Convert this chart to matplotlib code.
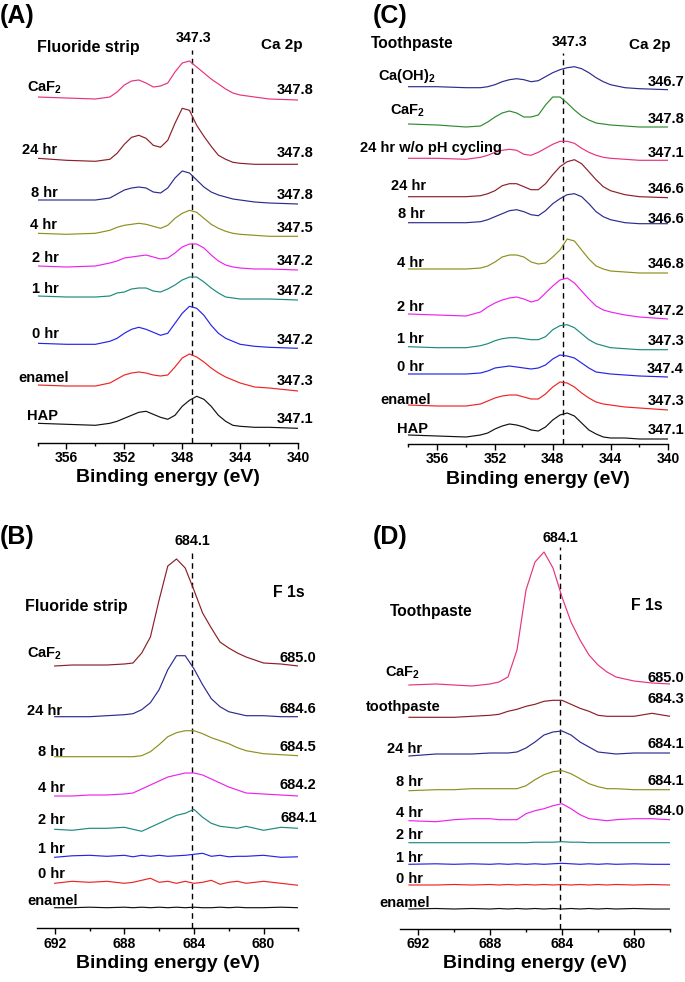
import numpy as np
import matplotlib.pyplot as plt
from matplotlib.ticker import MultipleLocator

plt.rcParams['font.family'] = ['Liberation Sans', 'DejaVu Sans']
plt.rcParams['font.weight'] = 'bold'
plt.rcParams['mathtext.default'] = 'regular'

W, H = 685, 982

# ---------------- data ----------------
# Ca 2p energy grid (eV) and F 1s energy grids
e_ca = [358, 356, 354, 353, 352.5, 352, 351.5, 351, 350.5, 350, 349.5, 349, 348.5, 348,
        347.5, 347, 346.5, 346, 345.5, 345, 344.5, 344, 343, 342, 340]
e_f_b = [692, 691, 690, 689, 688, 687.5, 687, 686.5, 686, 685.5, 685, 684.5, 684, 683.5,
         683, 682.5, 682, 681.5, 681, 680, 679, 678]
e_f_d = [692.5, 691, 690, 689, 688, 687.5, 687, 686.5, 686, 685.5, 685, 684.5, 684, 683.5,
         683, 682.5, 682, 681.5, 681, 680, 679, 678]

# (A) fluoride strip, Ca 2p  (intensity above each trace's own baseline)
a_caf2 = [0, -1, -2, 0, 5, 12, 16, 17, 14, 10, 11, 14, 25, 34, 36, 30, 24, 18, 13, 8, 4, 2, 0, -2, -3]
a_24 = [0, -2, -3, -1, 5, 14, 21, 23, 20, 13, 11, 18, 35, 50, 48, 33, 22, 12, 3, -1, -4, -5, -6, -6, -6]
a_8 = [0, 0, 0, 2, 6, 10, 12, 13, 12, 8, 7, 12, 22, 29, 27, 20, 13, 8, 5, 3, 1, 0, -2, -3, -4]
a_4 = [0, -1, 0, 3, 6, 8, 9, 10, 9, 7, 5, 8, 15, 20, 23, 21, 15, 9, 5, 2, 0, -1, -2, -3, -3]
a_2 = [0, -1, 0, 3, 5, 8, 9, 10, 11, 9, 7, 8, 13, 19, 22, 22, 18, 11, 5, 1, -1, -2, -3, -3, -4]
a_1 = [0, -1, -1, 0, 3, 4, 7, 8, 8, 5, 4, 7, 11, 16, 19, 19, 14, 8, 3, -1, -2, -3, -3, -3, -4]
a_0 = [0, -1, -1, 2, 5, 10, 14, 16, 14, 11, 8, 10, 20, 30, 37, 35, 28, 18, 10, 5, 2, -1, -3, -4, -5]
a_enamel = [0, -1, -1, 2, 6, 10, 12, 13, 12, 10, 9, 10, 18, 27, 31, 28, 23, 17, 12, 8, 5, 2, -2, -3, -6]
a_hap = [0, -1, -2, 0, 2, 5, 8, 11, 12, 9, 6, 4, 8, 17, 23, 27, 24, 17, 8, 2, -2, -3, -4, -4, -5]
a_offsets = [345.7, 284.4, 242.7, 209.4, 176.7, 146.7, 99.4, 57.7, 19.4]
a_names = ['CaF$_2$', '24 hr', '8 hr', '4 hr', '2 hr', '1 hr', '0 hr', 'enamel', 'HAP']
a_peaks = ['347.8', '347.8', '347.8', '347.5', '347.2', '347.2', '347.2', '347.3', '347.1']

# (C) toothpaste, Ca 2p
c_caoh2 = [0, 0, -1, -1, 0, 2, 5, 7, 8, 7, 5, 6, 10, 14, 17, 19, 20, 18, 14, 9, 5, 2, -1, -2, -3]
c_caf2 = [0, -1, -3, -2, 2, 7, 11, 13, 11, 7, 7, 9, 19, 27, 27, 21, 14, 8, 4, 1, 0, -1, -2, -3, -3]
c_24_nocyc = [0, 0, -1, 1, 3, 6, 8, 9, 8, 4, 3, 6, 10, 14, 17, 17, 15, 10, 6, 3, 1, 0, -1, -2, -2]
c_24 = [0, 0, 0, 1, 3, 6, 11, 13, 13, 10, 7, 7, 13, 22, 30, 35, 37, 33, 25, 17, 10, 6, 2, 0, -1]
c_8 = [0, 0, 0, 1, 3, 6, 9, 12, 13, 11, 8, 7, 12, 19, 24, 28, 29, 26, 19, 11, 6, 3, 0, -1, -1]
c_4 = [0, 0, 0, 1, 3, 7, 12, 14, 14, 12, 7, 5, 6, 12, 19, 30, 28, 19, 10, 3, 0, -2, -3, -4, -4]
c_2 = [0, -1, -2, 2, 7, 11, 14, 16, 17, 15, 12, 14, 21, 28, 34, 36, 31, 23, 15, 8, 4, 2, -1, -3, -5]
c_1 = [0, -1, -1, 1, 3, 6, 8, 9, 9, 8, 7, 7, 10, 17, 21, 22, 19, 13, 7, 3, 1, -1, -2, -3, -3]
c_0 = [0, 0, 0, 1, 3, 6, 7, 8, 7, 6, 5, 6, 9, 15, 19, 18, 16, 11, 6, 2, 1, 0, -1, -2, -3]
c_enamel = [0, -1, -1, 1, 4, 7, 9, 10, 10, 8, 6, 6, 11, 18, 23, 22, 18, 12, 7, 3, 1, 0, -2, -3, -5]
c_hap = [0, -1, -2, 0, 2, 6, 9, 11, 10, 8, 5, 4, 8, 15, 20, 22, 19, 12, 5, 1, -2, -3, -3, -4, -4]
c_offsets = [357.3, 320, 285.7, 247.3, 221.3, 175, 130, 97.3, 70, 39, 9]
c_names = ['Ca(OH)$_2$', 'CaF$_2$', '24 hr w/o pH cycling', '24 hr', '8 hr', '4 hr', '2 hr',
           '1 hr', '0 hr', 'enamel', 'HAP']
c_peaks = ['346.7', '347.8', '347.1', '346.6', '346.6', '346.8', '347.2', '347.3', '347.4',
           '347.3', '347.1']

# (B) fluoride strip, F 1s
b_caf2 = [0, 1, 1, 1, 2, 3, 13, 29, 66, 100, 107, 98, 76, 53, 38, 24, 18, 13, 9, 3, 2, 0]
b_24 = [0, 0, 0, 1, 2, 3, 7, 14, 27, 47, 61, 61, 48, 32, 18, 10, 5, 3, 1, 1, 0, 0]
b_8 = [0, 0, 0, 0, 0, 0, 1, 5, 12, 20, 24, 26, 26, 23, 19, 16, 13, 9, 6, 3, 2, 1]
b_4 = [0, 0, 1, 1, 2, 3, 7, 11, 15, 19, 21, 23, 23, 21, 17, 13, 9, 6, 3, 2, 1, 0]
b_2 = [0, -1, 1, 1, 2, 0, -2, 2, 6, 10, 14, 16, 20, 12, 6, 3, 2, 1, 3, -1, 2, 1]
b_1 = [0, 1.5, 2, 1, 2, 0.5, 2, 1, 2, 1, 1.5, 2, 3, 4, 1, 2, 0.5, 1, 1, 2, 0, 0.5]
b_0 = [0, 2, 1, 2, 0, 1, 3, 5, 1, 2, 0, 2, 0, 1, 3, -1, 1, 2, 0, 2, 0, -2]
b_enamel = [0, 0, 0.5, 0, 0.5, 0, 0.5, 0, 0.5, 0, 0.5, 0, 0.5, 0, 0, 0.5, 0, 0.5, 0, 0, 0.5, 0]
b_offsets = [262.3, 211.6, 171.6, 132.3, 99, 71, 45, 20.6]
b_names = ['CaF$_2$', '24 hr', '8 hr', '4 hr', '2 hr', '1 hr', '0 hr', 'enamel']
b_peaks = ['685.0', '684.6', '684.5', '684.2', '684.1', '', '', '']

# (D) toothpaste, F 1s
d_caf2 = [0, 1, 0, -1, 1, 3, 8, 35, 95, 123, 133, 117, 88, 63, 45, 30, 20, 13, 8, 4, 2, 1]
d_paste = [0, 0, 0, 1, 2, 3, 6, 8, 11, 13, 16, 17, 17, 13, 9, 6, 2, 1, 1, 1, 4, 1]
d_24 = [0, 2, 2, 2, 3, 3, 3, 4, 8, 14, 21, 24, 25, 21, 14, 9, 4, 3, 2, 3, 3, 3]
d_8 = [0, 1, 1, 2, 2, 2, 2, 2, 5, 11, 16, 19, 20, 17, 12, 7, 4, 2, 2, 1, 1, 1]
d_4 = [0, -1, 1, 2, 2, 1, 1, 1, 7, 10, 12, 15, 17, 12, 6, 2, 1, 0, 1, 2, 2, 1]
d_2 = [0, 0, 0, 0, 0, 0, 0, 0, 0, 0.5, 0.5, 0.5, 1, 0.5, 0.5, 0, 0, 0, 0, 0, 0, 0]
d_1 = [0, 0.5, 0, 0.5, 0, 0.5, 0, 0.5, 0, 0.5, 0, 0.5, 1, 0.5, 0, 0.5, 0, 0.5, 0, 0.5, 0, 0]
d_0 = [0, 0, 0.5, 0, 0.5, 0, 0.5, 0, 0.5, 0, 0.5, 0, 0.5, 0, 0.5, 0, 0.5, 0, 0.5, 0, 0.5, 0]
d_enamel = [0, 0.5, 0, 0.5, 0, 0.5, 0, 0.5, 0, 0.5, 0, 0.5, 0, 0.5, 0, 0.5, 0, 0.5, 0, 0.5, 0, 0]
d_offsets = [244, 211.7, 173, 138.3, 108.3, 86.3, 64.7, 44, 20]
d_names = ['CaF$_2$', 'toothpaste', '24 hr', '8 hr', '4 hr', '2 hr', '1 hr', '0 hr', 'enamel']
d_peaks = ['685.0', '684.3', '684.1', '684.1', '684.0', '', '', '', '']

ref_ca = 347.3
ref_f = 684.1

# ---------------- styles ----------------
pink = '#e8327f'
brown = '#8c1f28'
navy = '#2b2b8e'
olive = '#8f8f1e'
magenta = '#ee22ee'
teal = '#1c8a80'
blue = '#2424e8'
red = '#ee2424'
black = '#111111'
green = '#2e8b2e'

a_colors = [pink, brown, navy, olive, magenta, teal, blue, red, black]
c_colors = [navy, green, pink, brown, navy, olive, magenta, teal, blue, red, black]
b_colors = [brown, navy, olive, magenta, teal, blue, red, black]
d_colors = [pink, brown, navy, olive, magenta, teal, blue, red, black]

fig = plt.figure(figsize=(W / 100, H / 100), dpi=100)


def fx(x):
    return x / W


def fy(y):
    return 1 - y / H


def make_axes(left, right, axis_y, top, xlim, major, dash_top, ref):
    ax = fig.add_axes([fx(left), fy(axis_y), (right - left) / W, (axis_y - top) / H])
    ax.set_xlim(*xlim)
    ax.set_ylim(0, axis_y - top)
    for s in ['top', 'left', 'right']:
        ax.spines[s].set_visible(False)
    ax.spines['bottom'].set_linewidth(1.0)
    ax.xaxis.set_major_locator(MultipleLocator(major))
    ax.xaxis.set_minor_locator(MultipleLocator(major / 2))
    ax.tick_params(axis='x', which='major', direction='out', length=4, width=1, pad=2,
                   labelsize=10)
    ax.tick_params(axis='x', which='minor', direction='out', length=2.4, width=1)
    ax.set_yticks([])
    for lab in ax.get_xticklabels():
        lab.set_fontweight('bold')
    ax.set_xlabel('Binding energy (eV)', fontsize=14, fontweight='bold', labelpad=3)
    ax.plot([ref, ref], [0, axis_y - dash_top], color='black', lw=1, ls=(0, (4, 3)))
    return ax


def draw(ax, x, curves, offsets, colors):
    for y, off, c in zip(curves, offsets, colors):
        ax.plot(x, np.array(y) + off, color=c, lw=0.85, solid_joinstyle='round')


def label(x, y, s, ha='center', size=10.5):
    fig.text(fx(x), fy(y), s, ha=ha, va='baseline', fontsize=size, fontweight='bold')


# ---- panel A ----
ax_a = make_axes(37.5, 298, 442.7, 30, (358, 340), 4, 50, ref_ca)
draw(ax_a, e_ca, [a_caf2, a_24, a_8, a_4, a_2, a_1, a_0, a_enamel, a_hap], a_offsets, a_colors)
a_lab_x = [45, 40, 44, 44, 45, 45, 45, 44, 43]
a_lab_y = [91.7, 154, 197, 229, 261.7, 293.3, 338.3, 381.7, 420]
a_val_y = [94, 157.3, 199.3, 232.3, 265, 295, 344, 385, 423.3]
for n, p, lx, ly, vy in zip(a_names, a_peaks, a_lab_x, a_lab_y, a_val_y):
    label(lx, ly, n)
    label(313, vy, p, ha='right')
label(0, 22.7, '(A)', ha='left', size=18)
label(37, 52, 'Fluoride strip', ha='left', size=11.5)
label(194, 41.7, '347.3', size=10.3)
label(282, 49, 'Ca 2p', size=11)

# ---- panel C ----
ax_c = make_axes(408.3, 668.3, 444, 30, (358, 340), 4, 53, ref_ca)
draw(ax_c, e_ca, [c_caoh2, c_caf2, c_24_nocyc, c_24, c_8, c_4, c_2, c_1, c_0, c_enamel, c_hap],
     c_offsets, c_colors)
c_lab_x = [407, 407.5, 431, 408.5, 411, 410, 410, 410, 410, 406, 412]
c_lab_y = [80, 115, 151.7, 190, 218.3, 266.7, 310.7, 343, 370.7, 404, 432.7]
c_val_y = [86, 123.3, 156.7, 193.3, 223.3, 268.3, 315, 345, 373.3, 405, 434]
for n, p, lx, ly, vy in zip(c_names, c_peaks, c_lab_x, c_lab_y, c_val_y):
    label(lx, ly, n)
    label(684, vy, p, ha='right')
label(373, 22.7, '(C)', ha='left', size=18)
label(371, 48.3, 'Toothpaste', ha='left', size=11.2)
label(569.5, 46, '347.3', size=10.3)
label(650, 49.3, 'Ca 2p', size=11)

# ---- panel B ----
ax_b = make_axes(37.3, 298.3, 928.3, 520, (693, 678), 4, 550, ref_f)
draw(ax_b, e_f_b, [b_caf2, b_24, b_8, b_4, b_2, b_1, b_0, b_enamel], b_offsets, b_colors)
b_lab_x = [45, 45, 51, 51, 51, 51, 51, 53]
b_lab_y = [658, 715, 756, 791.7, 824, 852.7, 878.3, 905]
b_val_y = [661.7, 713.3, 750.7, 789.3, 821.7, 0, 0, 0]
for n, p, lx, ly, vy in zip(b_names, b_peaks, b_lab_x, b_lab_y, b_val_y):
    label(lx, ly, n)
    if p:
        label(316.7, vy, p, ha='right')
label(0, 544, '(B)', ha='left', size=18)
label(25, 610.7, 'Fluoride strip', ha='left', size=11.5)
label(192.5, 545, '684.1', size=10.3)
label(289, 596.7, 'F 1s', size=11.4)

# ---- panel D ----
ax_d = make_axes(400, 670, 929, 520, (693, 678), 4, 547, ref_f)
draw(ax_d, e_f_d, [d_caf2, d_paste, d_24, d_8, d_4, d_2, d_1, d_0, d_enamel], d_offsets, d_colors)
d_lab_x = [403, 403.5, 405, 409, 409, 409, 409, 409, 405]
d_lab_y = [677, 711, 752.7, 786, 816.7, 839.3, 861.7, 883.3, 906.7]
d_val_y = [681.7, 702.7, 748.3, 785, 815, 0, 0, 0, 0]
for n, p, lx, ly, vy in zip(d_names, d_peaks, d_lab_x, d_lab_y, d_val_y):
    label(lx, ly, n)
    if p:
        label(684, vy, p, ha='right')
label(373, 544, '(D)', ha='left', size=18)
label(390, 616, 'Toothpaste', ha='left', size=11.2)
label(560.5, 541.7, '684.1', size=10.3)
label(646.5, 610, 'F 1s', size=11.4)

fig.savefig('out.png', dpi=100)
